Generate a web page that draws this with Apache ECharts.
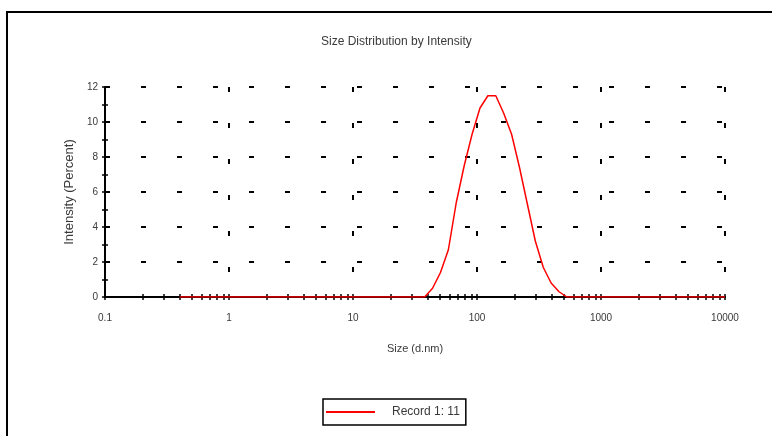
<!DOCTYPE html>
<html>
<head>
<meta charset="utf-8">
<script src="https://cdn.jsdelivr.net/npm/echarts@6/dist/echarts.min.js"></script>
<style>html,body{margin:0;padding:0;background:#fff;}#c{width:772px;height:436px;}</style>
</head>
<body>
<div id="c"></div>
<script>
// Size bins (d.nm)
const sizes = [0.4, 0.4632, 0.5365, 0.6213, 0.7195, 0.8332, 0.9649, 1.117, 1.294, 1.499,
  1.736, 2.010, 2.328, 2.696, 3.122, 3.615, 4.187, 4.849, 5.615, 6.503,
  7.531, 8.721, 10.10, 11.70, 13.54, 15.69, 18.17, 21.04, 24.36, 28.21,
  32.67, 37.84, 43.82, 50.75, 58.77, 68.06, 78.82, 91.28, 105.7, 122.4,
  141.8, 164.2, 190.1, 220.2, 255.0, 295.3, 342.0, 396.1, 458.7, 531.2,
  615.1, 712.4, 825.0, 955.4, 1106, 1281, 1484, 1718, 1990, 2305,
  2669, 3091, 3580, 4145, 4801, 5560, 6439, 7456, 8635, 10000];
// Intensity (Percent)
const intensity = [0, 0, 0, 0, 0, 0, 0, 0, 0, 0,
  0, 0, 0, 0, 0, 0, 0, 0, 0, 0,
  0, 0, 0, 0, 0, 0, 0, 0, 0, 0,
  0, 0, 0.5, 1.4, 2.7, 5.4, 7.5, 9.3, 10.8, 11.5,
  11.5, 10.5, 9.3, 7.4, 5.3, 3.2, 1.7, 0.8, 0.3, 0,
  0, 0, 0, 0, 0, 0, 0, 0, 0, 0,
  0, 0, 0, 0, 0, 0, 0, 0, 0, 0];
const seriesName = 'Record 1: 11';
const decades = [0.1, 1, 10, 100, 1000];
const decadeSteps = [1, 2, 3, 4, 5, 6, 7, 8, 9];
const xMin = 0.1, xMax = 10000;
const yMin = 0, yMax = 12, yStep = 2;

const tickValues = [];
decades.forEach(d => decadeSteps.forEach(s => tickValues.push(Math.log10(d * s))));
tickValues.push(Math.log10(xMax));

const font = "'Liberation Sans', Arial, sans-serif";
const txt = '#3a3a3a';
const grid = {left: 105, right: 47, top: 87, bottom: 139};

const chart = echarts.init(document.getElementById('c'), null, {renderer: 'canvas'});
const tickAxis = (inside) => ({
  type: 'value', min: Math.log10(xMin), max: Math.log10(xMax), position: 'bottom',
  axisLine: {show: false, onZero: false}, axisLabel: {show: false}, splitLine: {show: false},
  axisTick: {show: true, inside: inside, length: 3, customValues: tickValues,
    lineStyle: {color: '#000', width: 1.5}}
});
const yTickAxis = (inside) => ({
  type: 'value', min: yMin, max: yMax, interval: 1, position: 'left',
  axisLine: {show: false, onZero: false}, axisLabel: {show: false}, splitLine: {show: false},
  axisTick: {show: true, inside: inside, length: 3, lineStyle: {color: '#000', width: 1.5}}
});
chart.setOption({
  animation: false,
  backgroundColor: '#fff',
  title: {
    text: 'Size Distribution by Intensity', left: 316, top: 31,
    textStyle: {fontFamily: font, fontSize: 12, fontWeight: 'normal', color: txt}
  },
  graphic: [{
    type: 'rect', shape: {x: 7, y: 12, width: 820, height: 500},
    style: {fill: 'none', stroke: '#000', lineWidth: 2}, silent: true
  }],
  legend: {
    data: [{name: seriesName, icon: 'rect'}], left: 323, top: 399,
    borderColor: '#000', borderWidth: 1.5, padding: [7, 6, 7, 3],
    itemWidth: 49, itemHeight: 2,
    textStyle: {fontFamily: font, fontSize: 12, color: txt, padding: [0, 0, 0, 12]}
  },
  grid: grid,
  xAxis: [{
    type: 'log', logBase: 10, min: xMin, max: xMax, position: 'bottom',
    name: 'Size (d.nm)', nameLocation: 'middle', nameGap: 46,
    nameTextStyle: {fontFamily: font, fontSize: 11, color: txt},
    axisLine: {show: true, onZero: false, lineStyle: {color: '#000', width: 2}},
    axisTick: {show: false},
    axisLabel: {margin: 16, fontFamily: font, fontSize: 10, color: txt,
      formatter: v => String(v)},
    splitLine: {show: true, lineStyle: {color: '#000', width: 2, type: [5, 31]}}
  }, tickAxis(false), tickAxis(true)],
  yAxis: [{
    type: 'value', min: yMin, max: yMax, interval: yStep, position: 'left',
    name: 'Intensity (Percent)', nameLocation: 'middle', nameGap: 28,
    nameTextStyle: {fontFamily: font, fontSize: 13, color: txt},
    axisLine: {show: true, onZero: false, lineStyle: {color: '#000', width: 2}},
    axisTick: {show: false},
    axisLabel: {margin: 7, fontFamily: font, fontSize: 10, color: txt},
    splitLine: {show: true, lineStyle: {color: '#000', width: 2, type: [5, 31]}}
  }, yTickAxis(false), yTickAxis(true)],
  series: [{
    name: seriesName, type: 'line', xAxisIndex: 0, yAxisIndex: 0,
    symbol: 'none', smooth: false,
    lineStyle: {color: '#ff0000', width: 1.5}, itemStyle: {color: '#ff0000'},
    data: sizes.map((s, i) => [s, intensity[i]])
  }]
});
</script>
</body>
</html>
